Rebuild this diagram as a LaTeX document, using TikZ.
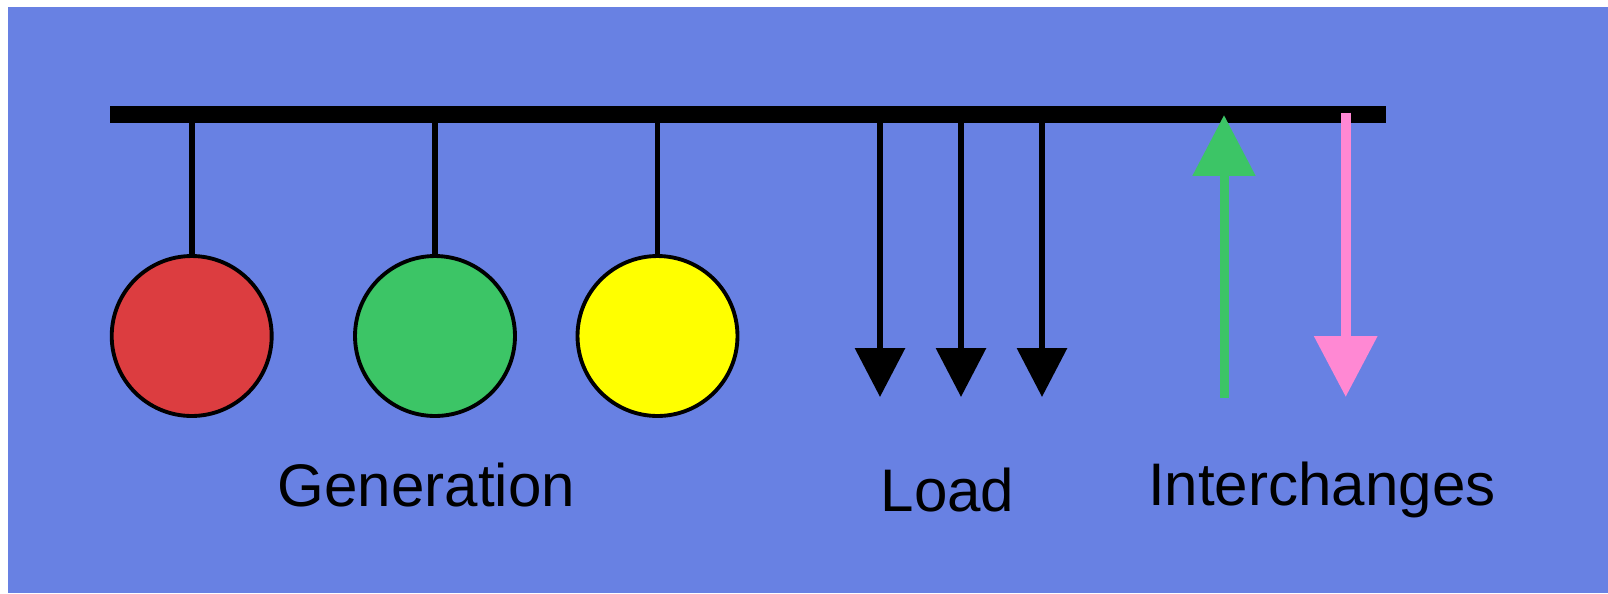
\documentclass[tikz,border=0pt]{standalone}
\usepackage{fontspec}
\setmainfont{Liberation Sans}
\usetikzlibrary{calc}
\usetikzlibrary{shapes}
\usetikzlibrary{arrows.meta}

\definecolor{bgblue}{RGB}{104,129,227}
\definecolor{genred}{RGB}{220,61,64}
\definecolor{gengreen}{RGB}{60,197,102}
\definecolor{genyellow}{RGB}{255,255,0}
\definecolor{xpink}{RGB}{255,136,211}

\begin{document}
\begin{tikzpicture}[x=0.02cm, y=-0.02cm,
    gen/.style={circle, draw=black, line width=2.2pt, minimum size=3.2cm, inner sep=0pt},
    stem/.style={line width=3.4pt},
    load/.style={line width=3.7pt, -{Triangle[width=0.98cm, length=0.98cm]}},
    label/.style={anchor=base, font=\fontsize{34.2}{41}\selectfont}]

    \useasboundingbox (0,0) rectangle (1608,593);
    \fill [bgblue] (8,7) rectangle (1608,593);

    % the bus bar
    \coordinate (busL) at (110,114.5);
    \coordinate (busR) at (1386,114.5);
    \draw [line width=10pt] (busL) -- (busR);

    % generators hanging from the bus
    \node (G1) at (191.7,336) [gen, fill=genred] {};
    \node (G2) at (435,336) [gen, fill=gengreen] {};
    \node (G3) at (657.5,336) [gen, fill=genyellow] {};
    \draw [stem] (G1.north) -- (G1.north |- busL);
    \draw [stem] (G2.north) -- (G2.north |- busL);
    \draw [stem] (G3.north) -- (G3.north |- busL);

    % loads
    \coordinate (L1) at (880,397);
    \coordinate (L2) at (961,397);
    \coordinate (L3) at (1042,397);
    \draw [load] (L1 |- busL) -- (L1);
    \draw [load] (L2 |- busL) -- (L2);
    \draw [load] (L3 |- busL) -- (L3);

    % interchanges
    \coordinate (Iin) at (1224,398);
    \coordinate (IinTip) at (1224,115);
    \coordinate (Iout) at (1345.7,397);
    \coordinate (IoutTop) at (1345.7,112.7);
    \draw [gengreen, line width=5.1pt, -{Triangle[width=1.22cm, length=1.22cm]}] (Iin) -- (IinTip);
    \draw [xpink, line width=5.7pt, -{Triangle[width=1.22cm, length=1.22cm]}] (IoutTop) -- (Iout);

    \node (TG) at (426.4,506) [label] {Generation};
    \node (TL) at (947.5,511.7) [label] {Load};
    \node (TI) at (1321.8,505) [label] {Interchanges};

\end{tikzpicture}
\end{document}
